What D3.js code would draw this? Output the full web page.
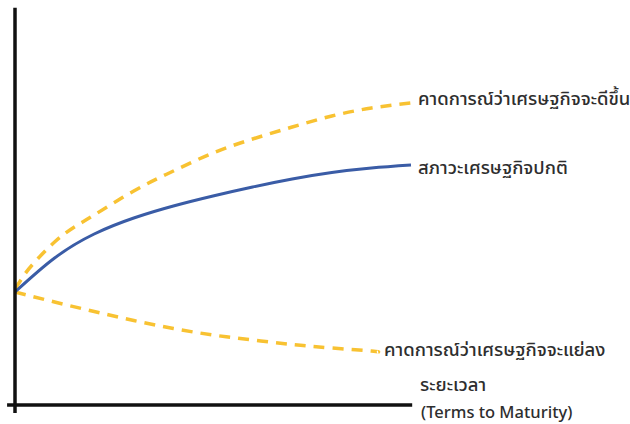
<!DOCTYPE html>
<html>
<head>
<meta charset="utf-8">
<script src="https://cdn.jsdelivr.net/npm/d3@7"></script>
<style>
  html, body { margin: 0; padding: 0; background: #fff; }
  svg { display: block; }
  text { font-family: "Noto Sans Thai", "Noto Sans", "DejaVu Sans", sans-serif; fill: #2e2e2e; font-weight: 500; }
</style>
</head>
<body>
<div id="chart"></div>
<script>
// Terms to maturity (relative units)
const termsBetter = [0, 0.25, 0.5, 1, 1.5, 2, 3, 4, 5, 6, 7, 8, 9, 10];
const termsNormal = [0, 1, 2, 3, 4, 5, 6, 7, 8, 9, 10];
const termsWorse  = [0, 1, 2, 3, 4, 5, 6, 7, 8, 9, 9.17];
// Yields (relative units)
const yieldBetter = [2.9, 3.275, 3.575, 4.075, 4.45, 4.75, 5.35, 5.85, 6.3, 6.65, 6.95, 7.225, 7.425, 7.55];
const yieldNormal = [2.825, 3.675, 4.275, 4.675, 4.975, 5.225, 5.45, 5.65, 5.8125, 5.925, 6.0];
const yieldWorse  = [2.825, 2.575, 2.3375, 2.1125, 1.9125, 1.75, 1.625, 1.5125, 1.425, 1.35, 1.325];
// Labels
const labelBetter = "คาดการณ์ว่าเศรษฐกิจจะดีขึ้น";
const labelNormal = "สภาวะเศรษฐกิจปกติ";
const labelWorse = "คาดการณ์ว่าเศรษฐกิจจะแย่ลง";
const xAxisLabel = ["ระยะเวลา", "(Terms to Maturity)"];

const W = 630, H = 424;
const svg = d3.select("#chart").append("svg").attr("width", W).attr("height", H);

const x = d3.scaleLinear().domain([0, 10]).range([15, 411]);
const y = d3.scaleLinear().domain([0, 10]).range([405, 5]);

const line = d3.line().x(d => x(d[0])).y(d => y(d[1])).curve(d3.curveNatural);

const yellow = "#f8c232", blue = "#3a5ca6";

svg.append("path").datum(termsBetter.map((t, i) => [t, yieldBetter[i]]))
  .attr("d", line).attr("fill", "none").attr("stroke", yellow)
  .attr("stroke-width", 3.5).attr("stroke-dasharray", "11,8");
svg.append("path").datum(termsWorse.map((t, i) => [t, yieldWorse[i]]))
  .attr("d", line).attr("fill", "none").attr("stroke", yellow)
  .attr("stroke-width", 3.5).attr("stroke-dasharray", "11,8");
svg.append("path").datum(termsNormal.map((t, i) => [t, yieldNormal[i]]))
  .attr("d", line).attr("fill", "none").attr("stroke", blue)
  .attr("stroke-width", 3);

// Axes
const xAxis = d3.axisBottom(x).tickValues([]).tickSizeOuter(0);
const gx = svg.append("g").attr("transform", `translate(0,${y(0)})`).call(xAxis);
gx.select(".domain").attr("d", `M${x(-0.2)},0H${x(10.03)}`).attr("stroke", "#111").attr("stroke-width", 3.5);

const yAxis = d3.axisLeft(y).tickValues([]).tickSizeOuter(0);
const gy = svg.append("g").attr("transform", `translate(${x(0)},0)`).call(yAxis);
gy.select(".domain").attr("d", `M0,${y(9.93)}V${y(-0.2)}`).attr("stroke", "#111").attr("stroke-width", 3.5);

// Labels
const fs = 18.5;
svg.append("text").attr("x", 418).attr("y", 105).attr("font-size", fs).text(labelBetter);
svg.append("text").attr("x", 418).attr("y", 174).attr("font-size", fs).text(labelNormal);
svg.append("text").attr("x", 384).attr("y", 356).attr("font-size", fs).text(labelWorse);
svg.append("text").attr("x", 420).attr("y", 391).attr("font-size", fs).text(xAxisLabel[0]);
svg.append("text").attr("x", 421).attr("y", 418).attr("font-size", 16.5).text(xAxisLabel[1]);
</script>
</body>
</html>
